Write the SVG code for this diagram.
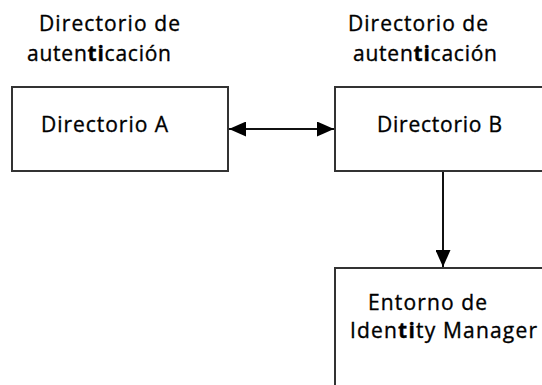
<svg xmlns="http://www.w3.org/2000/svg" width="542" height="385" viewBox="0 0 542 385">
<style>
.box{fill:#fff;stroke:#333;stroke-width:2}
.t{font-family:"Open Sans","Noto Sans","Liberation Sans",sans-serif;font-size:21px;fill:#000;stroke:#000;stroke-width:0.35}
.b{font-weight:bold}
.c{stroke:#111;stroke-width:2;fill:none}
</style>
<defs>
<marker id="ah" viewBox="0 0 10 10" refX="10" refY="5" markerWidth="17" markerHeight="15" markerUnits="userSpaceOnUse" orient="auto-start-reverse" preserveAspectRatio="none">
<path d="M0,0 L10,5 L0,10 z" fill="#000"/>
</marker>
</defs>
<rect width="542" height="385" fill="#fff"/>
<g id="label-a">
<text class="t" x="39" y="31" textLength="141">Directorio de</text>
<text class="t" x="27" y="61" textLength="144">auten<tspan class="b">ti</tspan>cación</text>
</g>
<g id="label-b">
<text class="t" x="348" y="31" textLength="140">Directorio de</text>
<text class="t" x="353" y="61" textLength="144">auten<tspan class="b">ti</tspan>cación</text>
</g>
<g id="node-a">
<rect class="box" x="12" y="87" width="216" height="84"/>
<text class="t" x="41" y="132" textLength="127">Directorio A</text>
</g>
<g id="node-b">
<rect class="box" x="335" y="87" width="220" height="84"/>
<text class="t" x="377" y="132" textLength="125">Directorio B</text>
</g>
<g id="node-c">
<rect class="box" x="335" y="268" width="220" height="140"/>
<text class="t" x="368" y="310" textLength="119">Entorno de</text>
<text class="t" x="350" y="338" textLength="187">Iden<tspan class="b">ti</tspan>ty Manager</text>
</g>
<g id="connectors">
<line class="c" x1="229" y1="129" x2="334" y2="129" marker-start="url(#ah)" marker-end="url(#ah)"/>
<line class="c" x1="443" y1="172" x2="443" y2="267" marker-end="url(#ah)"/>
</g>
</svg>
